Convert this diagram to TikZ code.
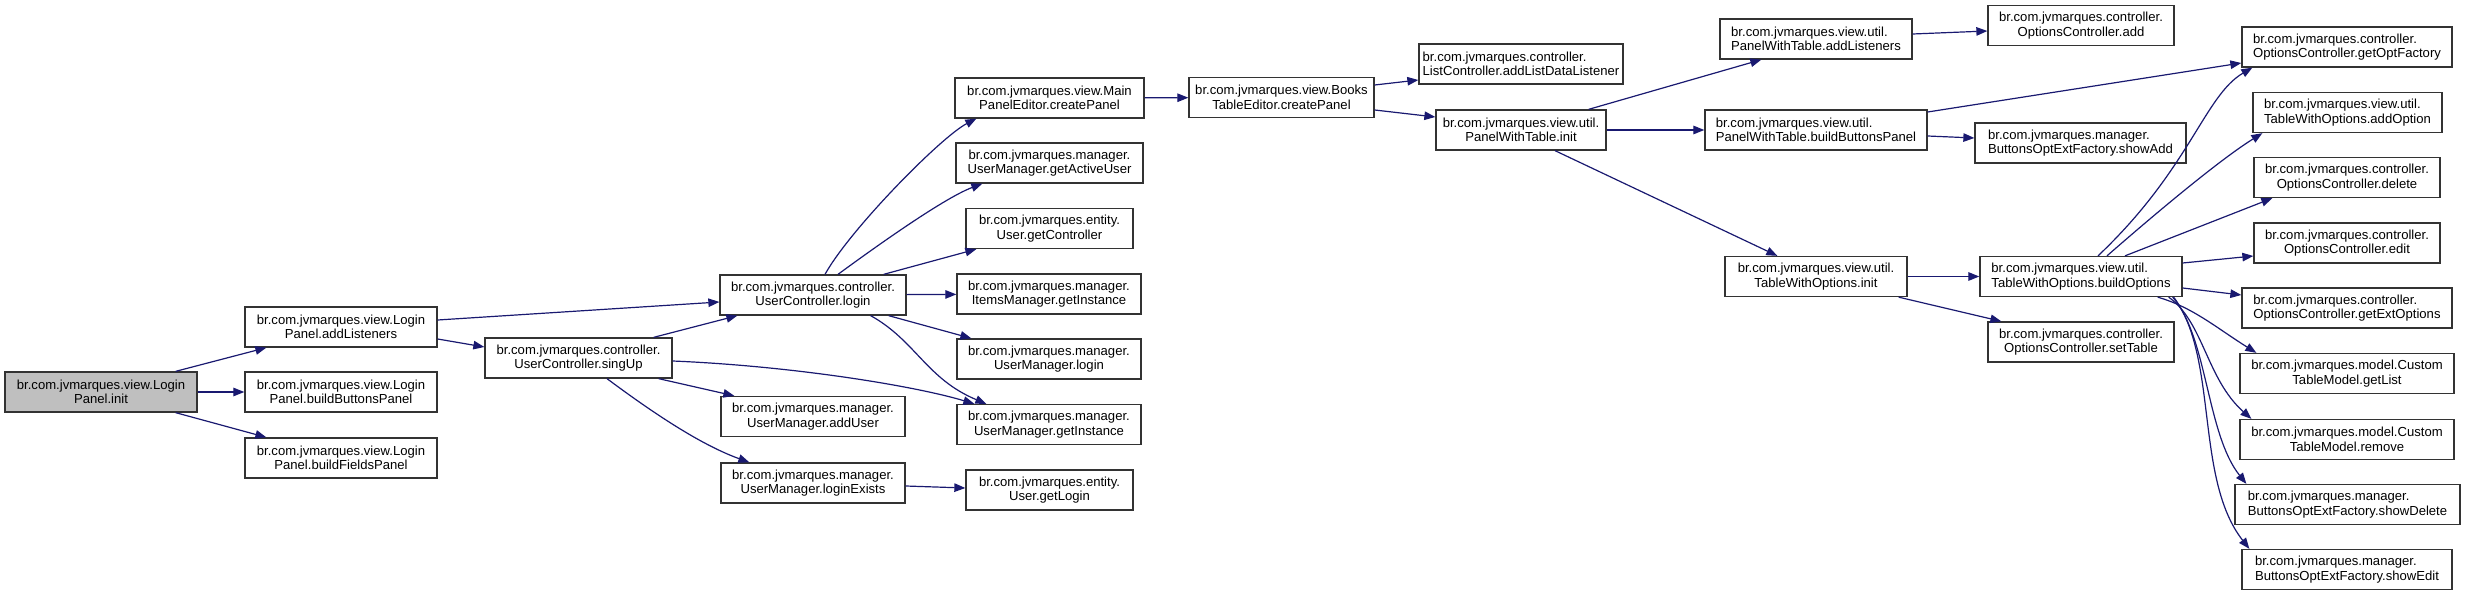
\documentclass[tikz,border=0pt]{standalone}
\usepackage{fontspec}
\setmainfont{Liberation Sans}
\usetikzlibrary{arrows.meta}
\definecolor{edgeblue}{HTML}{191970}
\definecolor{rootgray}{HTML}{BFBFBF}
\tikzset{
	fn/.style={draw=black!80, line width=1.3pt, fill=white, rectangle, inner sep=2pt, minimum height=40pt, align=center, font=\fontsize{13.1}{14.5}\selectfont},
	fnl/.style={fn, align=left},
	call/.style={draw=edgeblue, line width=1.2pt, -{Triangle[length=11pt, width=8.5pt]}},
}

\begin{document}
\begin{tikzpicture}[x=1pt, y=-1pt]
	\useasboundingbox (0,0) rectangle (2465,596);
	% Functions:
	\node[fn, fill=rootgray, minimum width=192pt] (LPinit) at (101,392) {br.com.jvmarques.view.Login\\Panel.init};
	\node[fn, minimum width=192pt] (LPaddLis) at (341,327) {br.com.jvmarques.view.Login\\Panel.addListeners};
	\node[fn, minimum width=192pt] (LPbuttons) at (341,392) {br.com.jvmarques.view.Login\\Panel.buildButtonsPanel};
	\node[fn, minimum width=192pt] (LPfields) at (341,458) {br.com.jvmarques.view.Login\\Panel.buildFieldsPanel};
	\node[fn, minimum width=187pt] (UCsingUp) at (578.5,358) {br.com.jvmarques.controller.\\UserController.singUp};
	\node[fn, minimum width=186pt] (UClogin) at (813,295) {br.com.jvmarques.controller.\\UserController.login};
	\node[fn, minimum width=184pt] (UMaddUser) at (813,416.5) {br.com.jvmarques.manager.\\UserManager.addUser};
	\node[fn, minimum width=184pt] (UMloginEx) at (813,483) {br.com.jvmarques.manager.\\UserManager.loginExists};
	\node[fn, minimum width=189pt] (MPEcreate) at (1049.5,98) {br.com.jvmarques.view.Main\\PanelEditor.createPanel};
	\node[fn, minimum width=187pt] (UMactive) at (1049.5,163) {br.com.jvmarques.manager.\\UserManager.getActiveUser};
	\node[fn, minimum width=167pt] (UgetCtrl) at (1049.5,228.5) {br.com.jvmarques.entity.\\User.getController};
	\node[fn, minimum width=184pt] (IMinstance) at (1049,294) {br.com.jvmarques.manager.\\ItemsManager.getInstance};
	\node[fn, minimum width=184pt] (UMlogin) at (1049,359) {br.com.jvmarques.manager.\\UserManager.login};
	\node[fn, minimum width=184pt] (UMinstance) at (1049,424.5) {br.com.jvmarques.manager.\\UserManager.getInstance};
	\node[fn, minimum width=167pt] (UgetLogin) at (1049.5,490) {br.com.jvmarques.entity.\\User.getLogin};
	\node[fn, minimum width=185pt] (BTEcreate) at (1281.5,97.5) {br.com.jvmarques.view.Books\\TableEditor.createPanel};
	\node[fnl, minimum width=204pt] (LCaddLDL) at (1521,64) {br.com.jvmarques.controller.\\ListController.addListDataListener};
	\node[fn, minimum width=170pt] (PWTinit) at (1521,130) {br.com.jvmarques.view.util.\\PanelWithTable.init};
	\node[fnl, minimum width=192pt] (PWTaddLis) at (1816,39) {br.com.jvmarques.view.util.\\PanelWithTable.addListeners};
	\node[fnl, minimum width=222pt] (PWTbuttons) at (1816,130) {br.com.jvmarques.view.util.\\PanelWithTable.buildButtonsPanel};
	\node[fn, minimum width=182pt] (TWOinit) at (1816,276.5) {br.com.jvmarques.view.util.\\TableWithOptions.init};
	\node[fn, minimum width=186pt] (OCadd) at (2081,25.5) {br.com.jvmarques.controller.\\OptionsController.add};
	\node[fnl, minimum width=211pt] (BOFshowAdd) at (2080.5,143) {br.com.jvmarques.manager.\\ButtonsOptExtFactory.showAdd};
	\node[fnl, minimum width=202pt] (TWObuild) at (2081,276.5) {br.com.jvmarques.view.util.\\TableWithOptions.buildOptions};
	\node[fn, minimum width=186pt] (OCsetTable) at (2081,342) {br.com.jvmarques.controller.\\OptionsController.setTable};
	\node[fnl, minimum width=210pt] (OCoptFact) at (2347,47) {br.com.jvmarques.controller.\\OptionsController.getOptFactory};
	\node[fnl, minimum width=189pt] (TWOaddOpt) at (2347.5,112.5) {br.com.jvmarques.view.util.\\TableWithOptions.addOption};
	\node[fn, minimum width=186pt] (OCdelete) at (2347,177.5) {br.com.jvmarques.controller.\\OptionsController.delete};
	\node[fn, minimum width=186pt] (OCedit) at (2347,243) {br.com.jvmarques.controller.\\OptionsController.edit};
	\node[fnl, minimum width=210pt] (OCextOpt) at (2347,308) {br.com.jvmarques.controller.\\OptionsController.getExtOptions};
	\node[fn, minimum width=214pt] (CTMgetList) at (2347,373.5) {br.com.jvmarques.model.Custom\\TableModel.getList};
	\node[fn, minimum width=214pt] (CTMremove) at (2347,439.5) {br.com.jvmarques.model.Custom\\TableModel.remove};
	\node[fnl, minimum width=225pt] (BOFshowDel) at (2347.5,504.5) {br.com.jvmarques.manager.\\ButtonsOptExtFactory.showDelete};
	\node[fnl, minimum width=210pt] (BOFshowEdit) at (2347,569.5) {br.com.jvmarques.manager.\\ButtonsOptExtFactory.showEdit};
	% Calls:
	\draw[call] ([xshift=-22pt]LPinit.north east) -- ([xshift=22pt]LPaddLis.south west);
	\draw[call] (LPinit) -- (LPbuttons);
	\draw[call] ([xshift=-22pt]LPinit.south east) -- ([xshift=22pt]LPfields.north west);
	\draw[call] ([yshift=7pt]LPaddLis.east) -- ([yshift=-7pt]UClogin.west);
	\draw[call] ([yshift=-12pt]LPaddLis.east) -- ([yshift=11pt]UCsingUp.west);
	\draw[call] ([xshift=-19pt]UCsingUp.north east) -- ([xshift=18pt]UClogin.south west);
	\draw[call] ([xshift=-14pt]UCsingUp.south east) -- ([xshift=14pt]UMaddUser.north west);
	\draw[call] ([xshift=28.5pt]UCsingUp.south) .. controls +(43,32) and +(-50,-18) .. ([xshift=29pt]UMloginEx.north west);
	\draw[call] ([yshift=-3pt]UCsingUp.east) .. controls +(120,5) and +(-60,-18) .. ([xshift=18pt]UMinstance.north west);
	\draw[call] ([xshift=12pt]UClogin.north) .. controls +(25,-45) and +(-35,18) .. ([xshift=22pt]MPEcreate.south west);
	\draw[call] ([xshift=25pt]UClogin.north) .. controls +(30,-22) and +(-40,15) .. ([xshift=27pt]UMactive.south west);
	\draw[call] ([xshift=-23pt]UClogin.north east) -- ([xshift=11pt]UgetCtrl.south west);
	\draw[call] (UClogin) -- (IMinstance);
	\draw[call] ([xshift=-18pt]UClogin.south east) -- ([xshift=15pt]UMlogin.north west);
	\draw[call] ([xshift=-36pt]UClogin.south east) .. controls +(45,25) and +(-60,-25) .. ([xshift=30pt]UMinstance.north west);
	\draw[call] ([yshift=-3pt]UMloginEx.east) -- ([yshift=2pt]UgetLogin.west);
	\draw[call] (MPEcreate) -- (BTEcreate);
	\draw[call] ([yshift=12.5pt]BTEcreate.east) -- ([yshift=-16pt]LCaddLDL.west);
	\draw[call] ([yshift=-12.5pt]BTEcreate.east) -- ([yshift=13pt]PWTinit.west);
	\draw[call] ([xshift=-18pt]PWTinit.north east) -- ([xshift=42pt]PWTaddLis.south west);
	\draw[call] (PWTinit) -- (PWTbuttons);
	\draw[call] ([xshift=34pt]PWTinit.south) -- ([xshift=53pt]TWOinit.north west);
	\draw[call] ([yshift=5pt]PWTaddLis.east) -- ([yshift=-5.5pt]OCadd.west);
	\draw[call] ([yshift=18pt]PWTbuttons.east) -- ([yshift=-16pt]OCoptFact.west);
	\draw[call] ([yshift=-6pt]PWTbuttons.east) -- ([yshift=5pt]BOFshowAdd.west);
	\draw[call] (TWOinit) -- (TWObuild);
	\draw[call] ([xshift=-9pt]TWOinit.south east) -- ([xshift=14pt]OCsetTable.north west);
	\draw[call] ([xshift=17pt]TWObuild.north) .. controls +(92,-87) and +(-48,28) .. ([xshift=11pt]OCoptFact.south west);
	\draw[call] ([xshift=26pt]TWObuild.north) .. controls +(40,-35) and +(-45,28) .. ([xshift=10pt]TWOaddOpt.south west);
	\draw[call] ([xshift=44pt]TWObuild.north) -- ([xshift=19pt]OCdelete.south west);
	\draw[call] ([yshift=13.5pt]TWObuild.east) -- ([yshift=-13pt]OCedit.west);
	\draw[call] ([yshift=-11.5pt]TWObuild.east) -- ([yshift=13pt]OCextOpt.west);
	\draw[call] ([xshift=-25pt]TWObuild.south east) .. controls +(35,10) and +(-40,-25) .. ([xshift=17pt]CTMgetList.north west);
	\draw[call] ([xshift=-14pt]TWObuild.south east) .. controls +(35,25) and +(-45,-40) .. ([xshift=12pt]CTMremove.north west);
	\draw[call] ([xshift=-10pt]TWObuild.south east) .. controls +(35,40) and +(-40,-50) .. ([xshift=12pt]BOFshowDel.north west);
	\draw[call] ([xshift=-9pt]TWObuild.south east) .. controls +(45,60) and +(-55,-70) .. ([xshift=8pt]BOFshowEdit.north west);
\end{tikzpicture}
\end{document}
